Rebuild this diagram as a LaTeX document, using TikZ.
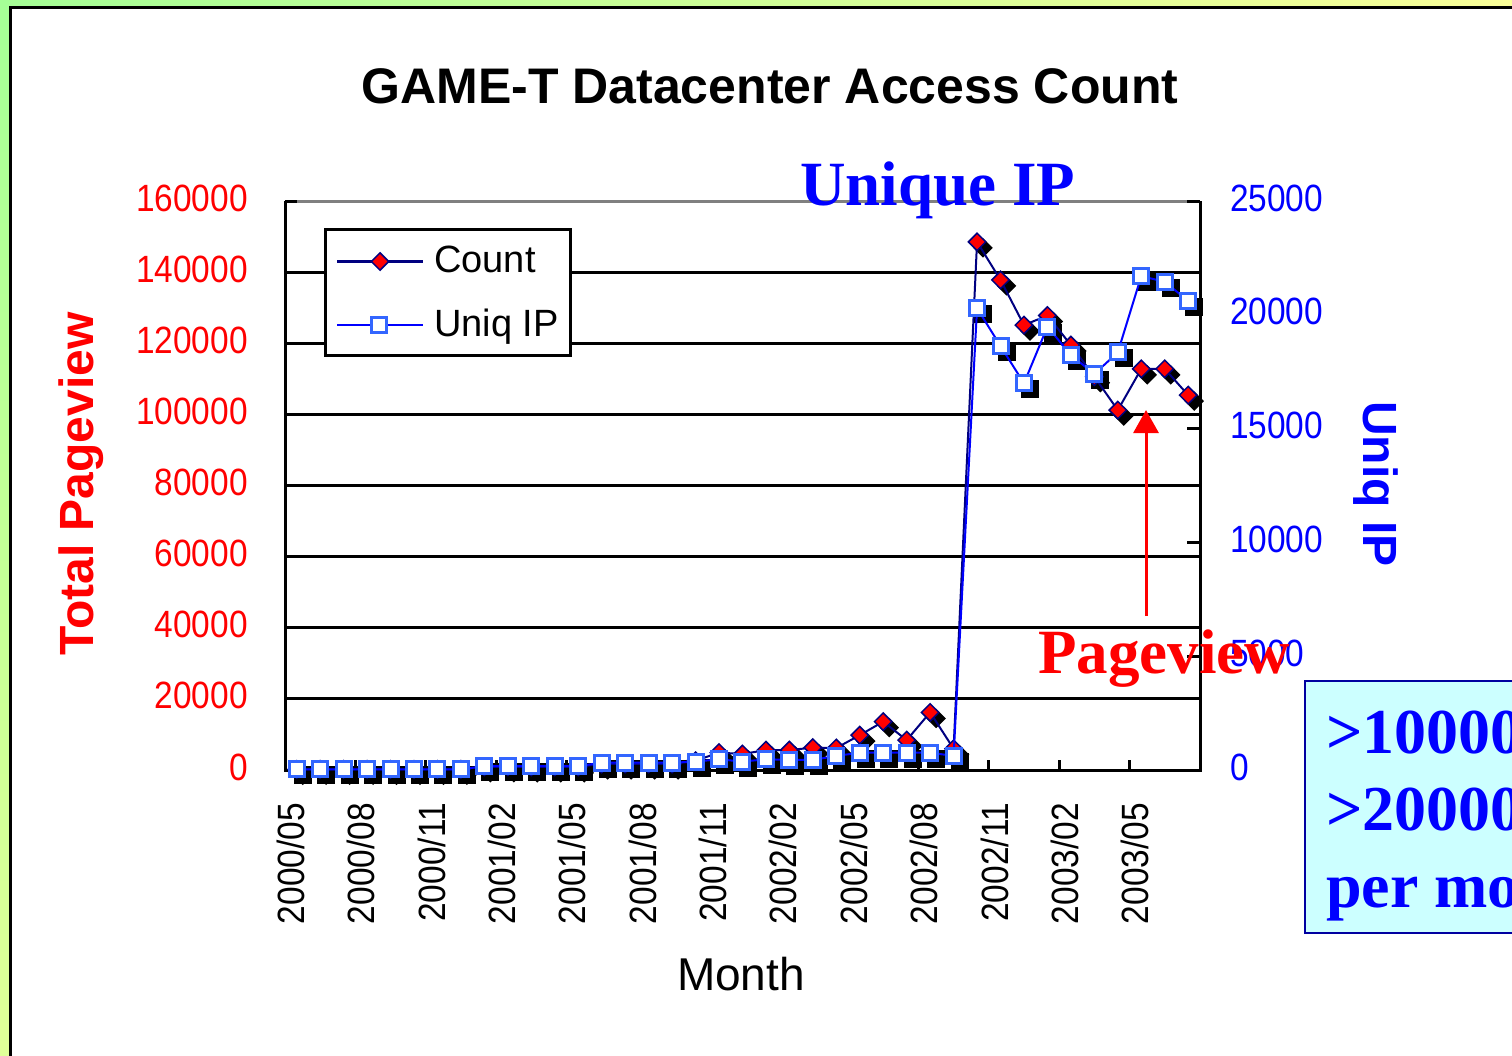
\documentclass[tikz,border=0pt]{standalone}
\usepackage{fontspec}
\setmainfont{Liberation Serif}
\setsansfont{Liberation Sans}
\newfontfamily\ticksfont[FakeStretch=0.88]{Liberation Sans}
\usetikzlibrary{shapes.geometric,arrows.meta}
\definecolor{bgreen}{RGB}{165,255,150}
\definecolor{byellow}{RGB}{255,255,153}
\definecolor{navy}{RGB}{0,0,128}
\definecolor{ipblue}{RGB}{51,102,255}
\definecolor{boxcyan}{RGB}{204,255,255}
\definecolor{boxedge}{RGB}{0,0,160}
\begin{document}
\begin{tikzpicture}[x=1pt, y=-1pt,
    axis/.style={line width=3pt},
    ticklab/.style={inner sep=0pt, font=\ticksfont\fontsize{38}{40}\selectfont},
    legtext/.style={inner sep=0pt, font=\sffamily\fontsize{38}{40}\selectfont},
    cnt/.style={diamond, draw=navy, fill=red, line width=1.5pt, inner sep=0pt, minimum size=18pt},
    uip/.style={rectangle, draw=ipblue, fill=white, line width=3pt, inner sep=0pt, minimum size=15pt},
    shd/.style={fill=black, draw=black, xshift=6pt, yshift=-6pt},
    cntline/.style={navy, line width=2pt, line join=round},
    uipline/.style={blue, line width=2pt, line join=round},
    bigtext/.style={inner sep=0pt, font=\bfseries\fontsize{63}{70}\selectfont}]
    \useasboundingbox (0,0) rectangle (1512,1055);
    % background and slide panel
    \fill[byellow] (0,0) rectangle (1512,1055);
    \shade[inner color=bgreen, outer color=byellow] (0,0) circle (1600);
    \fill[white] (10.5,7.5) rectangle (1530,1070);
    \draw[line width=3pt] (10.5,1070) -- (10.5,7.5) -- (1530,7.5);
    % title
    \node[font=\sffamily\bfseries\fontsize{50}{56}\selectfont] (title) at (770,86) {GAME-T Datacenter Access Count};
    % grid lines and left labels
    \foreach \k/\lab in {0/0,1/20000,2/40000,3/60000,4/80000,5/100000,6/120000,7/140000,8/160000} {
        \ifnum\k>0 \ifnum\k<8 \draw[axis] (285,{770-71.125*\k}) -- (1200,{770-71.125*\k}); \fi\fi
        \node[ticklab, text=red, anchor=east] (l\k) at (248,{767-71.125*\k}) {\lab};
    }
    \draw[axis, gray] (285,201) -- (1200,201);
    \draw[axis] (285,201) -- (297,201);
    % right labels and ticks
    \foreach \k/\lab in {0/0,1/5000,2/10000,3/15000,4/20000,5/25000} {
        \ifnum\k>0 \draw[axis] (1187,{770-113.8*\k}) -- (1200,{770-113.8*\k}); \fi
        \node[ticklab, text=blue, anchor=west] (r\k) at (1230,{767-113.8*\k}) {\lab};
    }
    % axes
    \draw[axis] (285,201) -- (285,770) -- (1200,770) -- (1200,201);
    \foreach \m in {1,...,12}
        \draw[axis] ({285+70.38*\m},770) -- ({285+70.38*\m},760);
    % month labels
    \foreach \lab [count=\m from 0] in {2000/05,2000/08,2000/11,2001/02,2001/05,2001/08,2001/11,2002/02,2002/05,2002/08,2002/11,2003/02,2003/05}
        \node[ticklab, rotate=90, anchor=east] (m\m) at ({290.7+70.38*\m},803) {\lab};
    % axis titles
    \node[font=\sffamily\bfseries\fontsize{48}{50}\selectfont, text=red, rotate=90] (ltitle) at (81,484) {Total Pageview};
    \node[font=\sffamily\bfseries\fontsize{48}{50}\selectfont, text=blue, rotate=-90] (rtitle) at (1376,484) {Uniq IP};
    \node[font=\sffamily\fontsize{46}{50}\selectfont] (xtitle) at (741,974) {Month};
    % legend
    \node[draw, line width=3pt, fill=white, minimum width=245.5pt, minimum height=126pt, anchor=north west] (legend) at (323.5,227.5) {};
    \coordinate (lc1) at (337,261.5); \coordinate (lc2) at (423,261.5);
    \coordinate (lu1) at (337,325); \coordinate (lu2) at (423,325);
    \draw[cntline, line width=3pt] (lc1) -- (lc2);
    \node[cnt] (lcm) at (380,261.5) {};
    \node[legtext, anchor=base west] (lct) at (434,272) {Count};
    \draw[uipline] (lu1) -- (lu2);
    \node[uip] (lum) at (379,325) {};
    \node[legtext, anchor=base west] (lut) at (434,336) {Uniq IP};
    % data points: count in thousands, uniq IP in thousands
    \begin{scope}[shift={(296.7,770)}, x=23.46pt, y=3.55625pt]
        \foreach \v [count=\i from 0] in {0.2,0.2,0.2,0.2,0.2,0.2,0.2,0.2,0.9,0.9,0.9,0.9,0.9,1.7,1.7,1.7,1.7,2.6,4.9,4.5,5.6,5.6,6.3,6.2,9.8,13.6,8.4,16.2,6.0,148.5,137.8,125.1,127.8,119.5,110.6,101.2,112.8,112.8,105.4}
            \coordinate (c\i) at (\i,\v);
    \end{scope}
    \begin{scope}[shift={(296.7,770)}, x=23.46pt, y=22.76pt]
        \foreach \v [count=\i from 0] in {0.03,0.03,0.03,0.03,0.03,0.03,0.03,0.03,0.17,0.17,0.17,0.17,0.17,0.32,0.32,0.32,0.32,0.37,0.47,0.37,0.47,0.45,0.44,0.62,0.76,0.76,0.76,0.76,0.62,20.29,18.63,16.99,19.48,18.23,17.40,18.35,21.70,21.45,20.61}
            \coordinate (u\i) at (\i,\v);
    \end{scope}
    % shadows
    \foreach \i in {0,...,38} {
        \node[cnt, shd] (cs\i) at (c\i) {};
        \node[uip, shd] (us\i) at (u\i) {};
    }
    % series
    \draw[cntline] (c0) \foreach \i in {1,...,38} {-- (c\i)};
    \foreach \i in {0,...,38} \node[cnt] (cm\i) at (c\i) {};
    \draw[uipline] (u0) \foreach \i in {1,...,38} {-- (u\i)};
    \foreach \i in {0,...,38} \node[uip] (um\i) at (u\i) {};
    % annotations
    \node[bigtext, text=blue, anchor=base west] (uniq) at (800,205) {Unique IP};
    \node[bigtext, text=red, anchor=base west] (pv) at (1038,673) {Pageview};
    \coordinate (pvtail) at (1146,616);
    \coordinate (pvtip) at (1146,410);
    \draw[red, line width=3pt, -{Triangle[length=23pt, width=25pt]}] (pvtail) -- (pvtip);
    % info box
    \draw[boxedge, fill=boxcyan, line width=2.5pt] (1305,681) rectangle (1530,933);
    \node[inner sep=0pt, text=blue, font=\bfseries\fontsize{64}{70}\selectfont, anchor=base west] (b1) at (1326,753) {>10000};
    \node[inner sep=0pt, text=blue, font=\bfseries\fontsize{64}{70}\selectfont, anchor=base west] (b2) at (1326,830) {>20000};
    \node[inner sep=0pt, text=blue, font=\bfseries\fontsize{64}{70}\selectfont, anchor=base west] (b3) at (1326,907) {per mo};
\end{tikzpicture}
\end{document}
